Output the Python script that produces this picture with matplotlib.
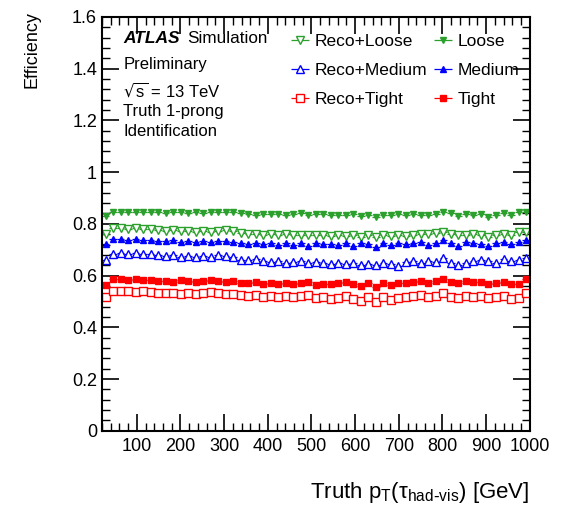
import numpy as np
import matplotlib.pyplot as plt
from matplotlib.ticker import MultipleLocator

plt.rcParams['font.family'] = ['Liberation Sans', 'DejaVu Sans']

#%% data: efficiency vs truth pT, 57 bins between 20 and 1000 GeV
pt_edges = np.linspace(20, 1000, 58)
pt = 0.5 * (pt_edges[1:] + pt_edges[:-1])
pt_halfwidth = 0.5 * (pt_edges[1:] - pt_edges[:-1])

loose = [0.832,
         0.846, 0.847, 0.845, 0.846, 0.844, 0.846, 0.845, 0.843, 0.846, 0.844, 0.842, 0.845, 0.843, 0.846, 0.844, 0.845, 0.847,
         0.840, 0.838, 0.836, 0.839, 0.837, 0.838, 0.835, 0.838, 0.840, 0.836, 0.838, 0.837,
         0.833, 0.836, 0.834, 0.838, 0.832, 0.835, 0.826, 0.836, 0.834, 0.838, 0.835, 0.837, 0.834, 0.836, 0.838,
         0.846, 0.840, 0.832, 0.838, 0.836, 0.838, 0.828, 0.834, 0.843, 0.836, 0.845, 0.846]
reco_loose = [0.760,
              0.782, 0.784, 0.781, 0.783, 0.780, 0.781,
              0.776, 0.774, 0.777, 0.772, 0.773, 0.770, 0.772, 0.769, 0.773, 0.775, 0.771,
              0.763, 0.760, 0.762, 0.758, 0.761, 0.757, 0.759, 0.756, 0.758, 0.755, 0.757, 0.756,
              0.754, 0.756, 0.752, 0.757, 0.750, 0.755, 0.748, 0.756, 0.753, 0.758, 0.754, 0.757, 0.760, 0.762, 0.765,
              0.768, 0.760, 0.755, 0.758, 0.762, 0.756, 0.750, 0.757, 0.762, 0.758, 0.768, 0.770]
medium = [0.722,
          0.740, 0.741, 0.738, 0.740, 0.737, 0.739,
          0.735, 0.733, 0.736, 0.731, 0.734, 0.730, 0.733, 0.729, 0.734, 0.735, 0.731,
          0.726, 0.723, 0.727, 0.721, 0.725, 0.719, 0.724, 0.720, 0.726, 0.716, 0.724, 0.722,
          0.723, 0.719, 0.726, 0.715, 0.724, 0.721, 0.712, 0.725, 0.720, 0.727, 0.722, 0.725, 0.729, 0.720, 0.724,
          0.737, 0.726, 0.716, 0.728, 0.724, 0.721, 0.713, 0.725, 0.730, 0.722, 0.730, 0.736]
reco_medium = [0.660,
               0.684, 0.686, 0.683, 0.688, 0.684, 0.682,
               0.678, 0.675, 0.679, 0.672, 0.676, 0.673, 0.677, 0.671, 0.678, 0.674, 0.670,
               0.662, 0.660, 0.665, 0.655, 0.652, 0.656, 0.650, 0.654, 0.658, 0.648, 0.653, 0.650,
               0.645, 0.650, 0.643, 0.648, 0.640, 0.646, 0.642, 0.650, 0.645, 0.636, 0.652, 0.655, 0.650, 0.656, 0.653,
               0.668, 0.648, 0.642, 0.650, 0.656, 0.661, 0.655, 0.650, 0.664, 0.657, 0.660, 0.668]
tight = [0.562,
         0.586, 0.585, 0.584, 0.586, 0.583, 0.582,
         0.579, 0.580, 0.576, 0.581, 0.578, 0.575, 0.580, 0.584, 0.579, 0.577, 0.580,
         0.572, 0.570, 0.574, 0.568, 0.571, 0.566, 0.570, 0.567, 0.572, 0.574, 0.563, 0.568,
         0.566, 0.570, 0.575, 0.566, 0.560, 0.573, 0.555, 0.572, 0.563, 0.570, 0.572, 0.575, 0.578, 0.572, 0.580,
         0.585, 0.575, 0.570, 0.578, 0.574, 0.576, 0.569, 0.572, 0.574, 0.566, 0.568, 0.588]
reco_tight = [0.518,
              0.540, 0.539, 0.541, 0.538, 0.540, 0.536,
              0.533, 0.531, 0.534, 0.530, 0.532, 0.529, 0.534, 0.537, 0.531, 0.528, 0.530,
              0.523, 0.520, 0.524, 0.518, 0.521, 0.516, 0.520, 0.517, 0.522, 0.525, 0.512, 0.518,
              0.510, 0.515, 0.520, 0.508, 0.502, 0.517, 0.498, 0.516, 0.505, 0.512, 0.518, 0.521, 0.524, 0.517, 0.522,
              0.531, 0.519, 0.514, 0.521, 0.518, 0.520, 0.514, 0.517, 0.520, 0.510, 0.512, 0.532]

green = "#2ca02c"
blue = "#0000ff"
red = "#ff0000"

#%% plot
fig = plt.figure(figsize=(5.66, 5.11), dpi=100)
ax = fig.add_axes([0.18, 0.157, 0.756, 0.81])

series = [
    (reco_loose, "Reco+Loose", green, "v", False, 6),
    (reco_medium, "Reco+Medium", blue, "^", False, 6),
    (reco_tight, "Reco+Tight", red, "s", False, 5.5),
    (loose, "Loose", green, "v", True, 4.5),
    (medium, "Medium", blue, "^", True, 4.5),
    (tight, "Tight", red, "s", True, 5),
]
for vals, lab, col, mk, filled, ms in series:
    ax.errorbar(pt, vals, xerr=pt_halfwidth, fmt=mk, color=col,
                ms=ms, mfc=col if filled else "white", mec=col, mew=1.0,
                elinewidth=0.9, capsize=0, label=lab)

ax.set_xlim(20, 1000)
ax.set_ylim(0, 1.6)
ax.xaxis.set_minor_locator(MultipleLocator(20))
ax.yaxis.set_minor_locator(MultipleLocator(0.04))
ax.set_yticks([0, 0.2, 0.4, 0.6, 0.8, 1.0, 1.2, 1.4, 1.6])
ax.set_yticklabels(["0", "0.2", "0.4", "0.6", "0.8", "1", "1.2", "1.4", "1.6"])
ax.set_xticks(np.arange(100, 1001, 100))
ax.tick_params(which="both", direction="in", top=True, right=True,
               labelsize=13, colors="black")
ax.tick_params(which="major", length=12, width=1.2)
ax.tick_params(which="minor", length=6, width=1.0)
ax.tick_params(axis="x", pad=5)
for sp in ax.spines.values():
    sp.set_linewidth(1.5)

ax.set_xlabel(r"Truth p$_\mathregular{T}$($\mathregular{\tau_{had\text{-}vis}}$) [GeV]",
              fontsize=16, loc="right", labelpad=18)
ax.set_ylabel("Efficiency", fontsize=13, ha="right", va="center")
ax.yaxis.set_label_coords(-0.163, 1.015)

leg = ax.legend(ncol=2, frameon=False, fontsize=12.5, loc="upper right",
                bbox_to_anchor=(1.0, 0.985), handlelength=1.2,
                handletextpad=0.25, columnspacing=0.3, labelspacing=0.8,
                borderaxespad=0.2)

tx = ax.transAxes
fs = 12
ax.text(0.05, 0.965, "ATLAS", transform=tx, fontsize=12.5,
        fontweight="bold", fontstyle="italic", va="top")
ax.text(0.199, 0.965, "Simulation", transform=tx, fontsize=12.3, va="top")
ax.text(0.05, 0.902, "Preliminary", transform=tx, fontsize=fs, va="top")
ax.text(0.05, 0.845, r"$\mathregular{\sqrt{s}}$ = 13 TeV", transform=tx,
        fontsize=fs, va="top")
ax.text(0.05, 0.79, "Truth 1-prong", transform=tx, fontsize=fs, va="top")
ax.text(0.05, 0.742, "Identification", transform=tx, fontsize=fs, va="top")

fig.savefig("out.png", dpi=100)
